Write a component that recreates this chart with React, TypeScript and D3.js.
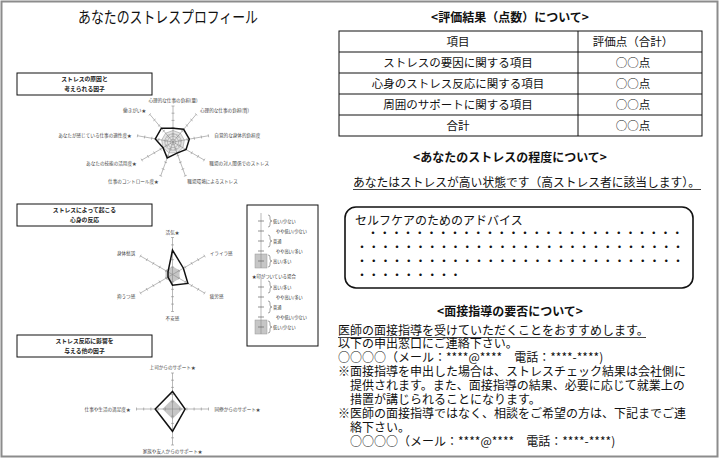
import React from 'react';
import * as d3 from 'd3';

const FONT = '"Noto Sans CJK JP", "Noto Sans", sans-serif';

// ---- radar data ----
const causeLabels = ['心理的な仕事の負担(量)', '心理的な仕事の負担(質)', '自覚的な身体的負担度', '職場の対人関係でのストレス', '職場環境によるストレス', '仕事のコントロール度★', 'あなたの技能の活用度★', 'あなたが感じている仕事の適性度★', '働きがい★'];
const causeValues = [1.9, 2.3, 2.3, 2.1, 1.65, 2.35, 1.6, 2.5, 2.5];
const causeRef = 1.6;

const reactionLabels = ['活気★', 'イライラ感', '疲労感', '不安感', '抑うつ感', '身体愁訴'];
const reactionValues = [3.3, 1.7, 2.4, 1.45, 0.7, 0.7];
const reactionRef = 1.1;

const supportLabels = ['上司からのサポート★', '同僚からのサポート★', '家族や友人からのサポート★', '仕事や生活の満足度★'];
const supportValues = [2.45, 1.75, 3.1, 2.4];
const supportRef = 1.4;

const scaleTicks = [1, 2, 3, 4, 5];

const boxTitles = [
  ['ストレスの原因と', '考えられる因子'],
  ['ストレスによって起こる', '心身の反応'],
  ['ストレス反応に影響を', '与える他の因子'],
];

const legendPlain = ['低い/少ない', 'やや低い/少ない', '普通', 'やや高い/多い', '高い/多い'];
const legendStar = ['高い/多い', 'やや高い/多い', '普通', 'やや低い/少ない', '低い/少ない'];
const legendNote = '★印がついている場合';

// ---- right side texts ----
const tableHeader = ['項目', '評価点（合計）'];
const tableItems = ['ストレスの要因に関する項目', '心身のストレス反応に関する項目', '周囲のサポートに関する項目', '合計'];
const tableScores = ['○○点', '○○点', '○○点', '○○点'];

const interviewLines = [
  '医師の面接指導を受けていただくことをおすすめします。',
  '以下の申出窓口にご連絡下さい。',
  '○○○○（メール：****@****　電話：****-****)',
  '※面接指導を申出した場合は、ストレスチェック結果は会社側に',
  '　提供されます。また、面接指導の結果、必要に応じて就業上の',
  '　措置が講じられることになります。',
  '※医師の面接指導ではなく、相談をご希望の方は、下記までご連',
  '　絡下さい。',
  '　○○○○（メール：****@****　電話：****-****)',
];
const dotCounts = [27, 28, 28, 9];

type RadarProps = {
  cx: number; cy: number; radius: number;
  labels: string[]; values: number[]; refLevel: number; web?: boolean;
};

function Radar({ cx, cy, radius, labels, values, refLevel, web }: RadarProps) {
  const n = labels.length;
  const r = d3.scaleLinear().domain([0, 5]).range([0, radius]);
  const ang = (i: number) => (i * 2 * Math.PI) / n;
  const line = d3.lineRadial<number>()
    .angle((_, i) => ang(i))
    .radius((d) => r(d))
    .curve(d3.curveLinearClosed);
  const D = radius + 6;
  return (
    <g transform={`translate(${cx},${cy})`}>
      <path d={line(labels.map(() => refLevel)) || ''} fill={web ? '#e4e4e4' : '#c6c6c6'} stroke="none" />
      {web && [0.4, 0.8, 1.2, 1.6].map((lv) => (
        <path key={lv} d={line(labels.map(() => lv)) || ''} fill="none" stroke="#8a8a8a" strokeWidth={0.5} />
      ))}
      {labels.map((_, i) => {
        const a = ang(i);
        const sx = Math.sin(a), sy = -Math.cos(a);
        return (
          <g key={i}>
            <line x1={0} y1={0} x2={sx * r(5)} y2={sy * r(5)} stroke="#8a8a8a" strokeWidth={0.6} />
            {scaleTicks.map((t) => {
              const px = sx * r(t), py = sy * r(t);
              const ox = -sy * 1.5, oy = sx * 1.5;
              return <line key={t} x1={px - ox} y1={py - oy} x2={px + ox} y2={py + oy} stroke="#8a8a8a" strokeWidth={0.6} />;
            })}
          </g>
        );
      })}
      <path d={line(values) || ''} fill="none" stroke="#111" strokeWidth={1.5} strokeLinejoin="miter" />
      {labels.map((lab, i) => {
        const a = ang(i);
        const sx = Math.sin(a), sy = -Math.cos(a);
        const anchor = sx > 0.1 ? 'start' : sx < -0.1 ? 'end' : 'middle';
        return (
          <text key={lab} x={sx * D} y={sy * D} textAnchor={anchor} dominantBaseline="central"
            fontSize={4.6} fontFamily={FONT} fill="#444">{lab}</text>
        );
      })}
    </g>
  );
}

function TitleBox({ y, lines }: { y: number; lines: string[] }) {
  return (
    <g>
      <rect x={17} y={y} width={135} height={22} fill="#fff" stroke="#111" strokeWidth={1} />
      <text fontSize={5.8} fontWeight="bold" fontFamily={FONT} fill="#222" textAnchor="middle">
        {lines.map((l, i) => (
          <tspan key={i} x={84.5} y={y + 8 + i * 10}>{l}</tspan>
        ))}
      </text>
    </g>
  );
}

function Brace({ x, y }: { x: number; y: number }) {
  const d = `M${x},${y - 6} q2,0 2,2 v2 q0,2 2,2 q-2,0 -2,2 v2 q0,2 -2,2`;
  return <path d={d} fill="none" stroke="#444" strokeWidth={0.5} />;
}

function LegendGroup({ ys, labels }: { ys: number[]; labels: string[] }) {
  const last = ys[ys.length - 1];
  return (
    <g>
      <rect x={255} y={last - 7} width={12} height={14} fill="#c6c6c6" stroke="#999" strokeWidth={0.5} />
      <line x1={261} x2={261} y1={ys[0] - 8} y2={last + 7} stroke="#8a8a8a" strokeWidth={0.6} />
      {ys.map((y, i) => (
        <g key={i}>
          <line x1={258} x2={264} y1={y} y2={y} stroke="#666" strokeWidth={0.7} />
          {i % 2 === 0 && <Brace x={268} y={y} />}
        </g>
      ))}
      <text fontSize={4.2} fontFamily={FONT} fill="#333">
        {ys.map((y, i) => (
          <tspan key={i} x={i % 2 === 0 ? 273 : 276} y={y + 1.5}>{labels[i]}</tspan>
        ))}
      </text>
    </g>
  );
}

export default function App() {
  const rowBand = d3.scaleBand<number>().domain([0, 1, 2, 3, 4]).range([31, 136]);
  const lineY = d3.scaleLinear().domain([0, interviewLines.length - 1]).range([334.5, 445.5]);
  const dotY = d3.scaleLinear().domain([0, 3]).range([237, 279]);
  const legendYs1 = [221, 231, 241, 251, 261];
  const legendYs2 = [287, 297, 307, 317, 327];
  return (
    <svg width={720} height={459} style={{ position: 'absolute', left: 0, top: 0, background: '#fff' }}>
      <rect x={0} y={0} width={720} height={459} fill="#fff" />
      <rect x={1.5} y={1.5} width={716} height={455} fill="none" stroke="#8c8c8c" strokeWidth={2} />

      {/* Left: profile */}
      <text x={168} y={23} textAnchor="middle" fontSize={16}
        fontFamily={FONT} fill="#111" textLength={180} lengthAdjust="spacingAndGlyphs">あなたのストレスプロフィール</text>

      <TitleBox y={73} lines={boxTitles[0]} />
      <TitleBox y={204} lines={boxTitles[1]} />
      <TitleBox y={335} lines={boxTitles[2]} />

      <Radar cx={173} cy={142} radius={36} labels={causeLabels} values={causeValues} refLevel={causeRef} web />
      <Radar cx={172.5} cy={274.5} radius={37} labels={reactionLabels} values={reactionValues} refLevel={reactionRef} />
      <Radar cx={172.5} cy={409} radius={36} labels={supportLabels} values={supportValues} refLevel={supportRef} />

      {/* legend */}
      <rect x={247} y={205} width={71} height={141} fill="#fff" stroke="#111" strokeWidth={1} />
      <LegendGroup ys={legendYs1} labels={legendPlain} />
      <text x={252} y={277.5} fontSize={4.4} fontFamily={FONT} fill="#333">{legendNote}</text>
      <LegendGroup ys={legendYs2} labels={legendStar} />

      {/* Right: evaluation table */}
      <text x={510} y={21.5} textAnchor="middle" fontSize={12} fontWeight="bold"
        fontFamily={FONT} fill="#111">{'<評価結果（点数）について>'}</text>
      <rect x={339} y={31} width={363} height={105} fill="none" stroke="#111" strokeWidth={1} />
      {[1, 2, 3, 4].map((i) => (
        <line key={i} x1={339} x2={702} y1={rowBand(i)} y2={rowBand(i)} stroke="#111" strokeWidth={1} />
      ))}
      <line x1={578} x2={578} y1={31} y2={136} stroke="#111" strokeWidth={1} />
      {[tableHeader[0], ...tableItems].map((t, i) => (
        <text key={t} x={458} y={(rowBand(i) || 0) + rowBand.bandwidth() / 2 + 4} textAnchor="middle"
          fontSize={11.5} fontFamily={FONT} fill="#111">{t}</text>
      ))}
      {[tableHeader[1], ...tableScores].map((t, i) => (
        <text key={i} x={633} y={(rowBand(i) || 0) + rowBand.bandwidth() / 2 + 4} textAnchor="middle"
          fontSize={11.5} fontFamily={FONT} fill="#111">{t}</text>
      ))}

      {/* stress level */}
      <text x={510} y={161.5} textAnchor="middle" fontSize={12} fontWeight="bold"
        fontFamily={FONT} fill="#111">{'<あなたのストレスの程度について>'}</text>
      <text x={353} y={186.5} fontSize={12} fontFamily={FONT} fill="#111"
        textLength={347} lengthAdjust="spacingAndGlyphs">あなたはストレスが高い状態です（高ストレス者に該当します）。</text>
      <line x1={353} x2={701} y1={189.5} y2={189.5} stroke="#111" strokeWidth={0.8} />

      <rect x={345} y={207} width={348} height={81} rx={11} ry={11} fill="none" stroke="#111" strokeWidth={1.6} />
      <text fontFamily={FONT} fill="#111">
        <tspan x={355} y={224.5} fontSize={12}>セルフケアのためのアドバイス</tspan>
        {dotCounts.map((c, i) => (
          <tspan key={i} x={i === 0 ? 368 : 357} y={dotY(i)} fontSize={10} fontWeight="bold" letterSpacing={1.7}>{'・'.repeat(c)}</tspan>
        ))}
      </text>

      {/* interview */}
      <text x={510} y={315.5} textAnchor="middle" fontSize={12} fontWeight="bold"
        fontFamily={FONT} fill="#111">{'<面接指導の要否について>'}</text>
      <text fontSize={12} fontFamily={FONT} fill="#111">
        {interviewLines.map((l, i) => (
          <tspan key={i} x={338} y={lineY(i)}>{l}</tspan>
        ))}
      </text>
      <line x1={338} x2={646} y1={lineY(0) + 3} y2={lineY(0) + 3} stroke="#111" strokeWidth={0.8} />
    </svg>
  );
}
